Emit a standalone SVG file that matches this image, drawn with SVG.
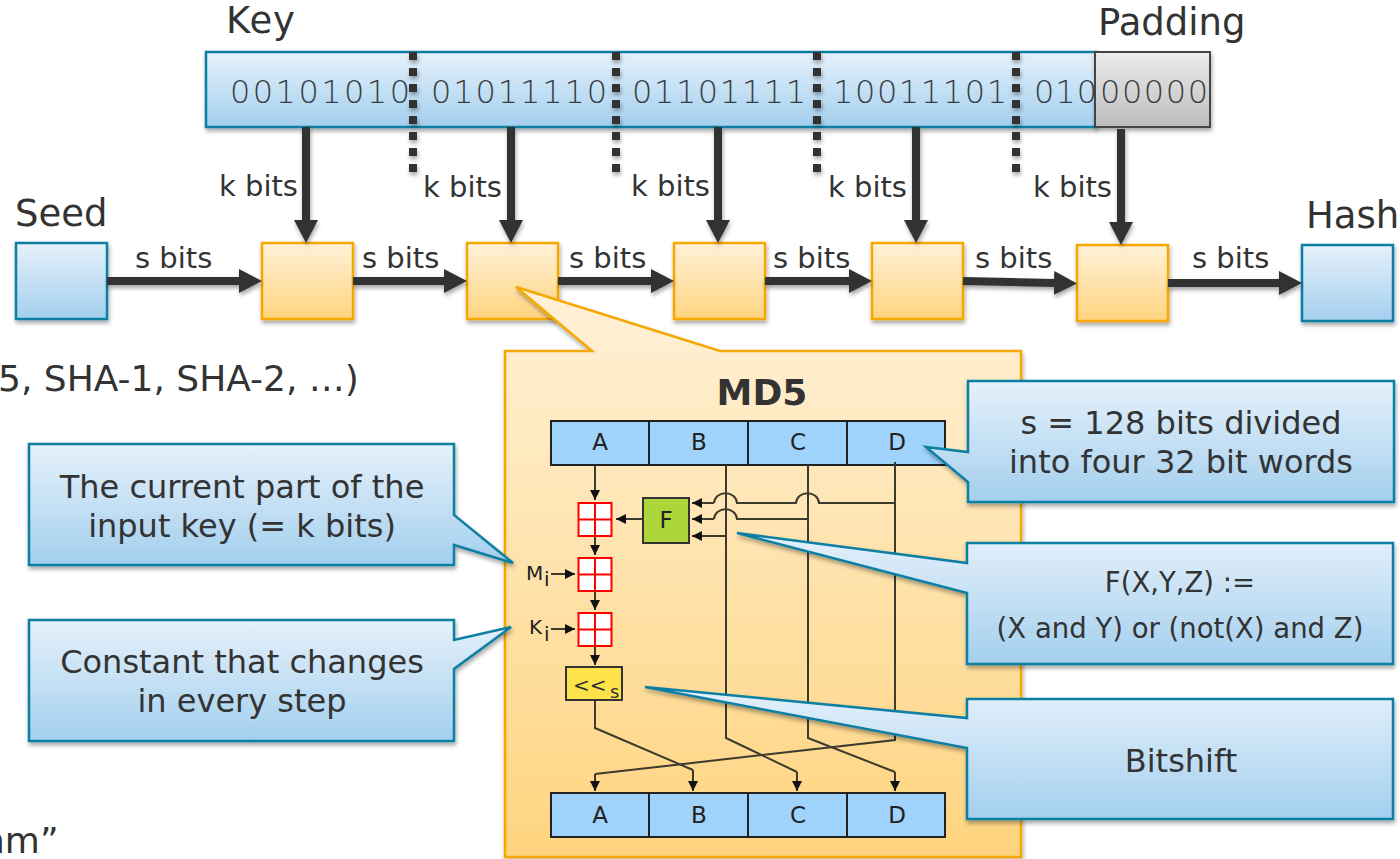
<svg xmlns="http://www.w3.org/2000/svg" width="1400" height="859" viewBox="0 0 1400 859">
<defs>
<linearGradient id="blue" x1="0" y1="0" x2="0" y2="1"><stop offset="0" stop-color="#e6f1fb"/><stop offset="1" stop-color="#a3cfee"/></linearGradient>
<linearGradient id="org" x1="0" y1="0" x2="0" y2="1"><stop offset="0" stop-color="#fff1d8"/><stop offset="1" stop-color="#ffd47f"/></linearGradient>
<linearGradient id="gray" x1="0" y1="0" x2="0" y2="1"><stop offset="0" stop-color="#ececec"/><stop offset="1" stop-color="#bdbdbd"/></linearGradient>
<filter id="sh" x="-10%" y="-10%" width="120%" height="125%"><feDropShadow dx="1" dy="3" stdDeviation="2" flood-color="#000" flood-opacity="0.35"/></filter>
<marker id="big" markerUnits="userSpaceOnUse" markerWidth="24" markerHeight="24" refX="1" refY="12" orient="auto"><path d="M0 0L23 12L0 24z" fill="#333"/></marker>
<marker id="sm" markerUnits="userSpaceOnUse" markerWidth="11" markerHeight="12" refX="10" refY="5" orient="auto"><path d="M0 0L10 5L0 10z" fill="#111"/></marker>
</defs>
<style>
text{font-family:"DejaVu Sans","Verdana",sans-serif;fill:#333}
.lab{font-size:29px}
.big{font-size:36px}
.title{font-size:37px}
.bits{font-size:32px;fill:#3a3f44;font-weight:200}
.call{font-size:32px;text-anchor:middle}
.small{font-size:27.5px;text-anchor:middle}
.cell{font-size:23px;text-anchor:middle;fill:#222}
.sub{font-size:20px;fill:#222}
.b{fill:url(#blue);stroke:#0d7fa3;stroke-width:2.5}
.o{fill:url(#org);stroke:#f6a800;stroke-width:2.5}
.thick{fill:none;stroke:#333;stroke-width:8;marker-end:url(#big)}
.thin{fill:none;stroke:#3d3a2e;stroke-width:2}
.ar{fill:none;stroke:#3d3a2e;stroke-width:2;marker-end:url(#sm)}
.dot{stroke:#333;stroke-width:8;stroke-dasharray:8 8;fill:none}
.reg{fill:#9fd3fb;stroke:#222;stroke-width:2}
.rs{fill:#fff;stroke:#f00;stroke-width:2}
</style>
<g id="key"><rect class="b" x="206" y="52" width="890" height="75" filter="url(#sh)"/><text class="bits" x="230" y="103" textLength="180">00101010</text><text class="bits" x="431" y="103" textLength="176">01011110</text><text class="bits" x="632" y="103" textLength="174">01101111</text><text class="bits" x="833" y="103" textLength="174">10011101</text><text class="bits" x="1034" y="103" textLength="63">010</text><text class="title" x="226" y="33" textLength="69">Key</text></g>
<g id="padding"><rect x="1095" y="52" width="115" height="75" fill="url(#gray)" stroke="#444" stroke-width="2" filter="url(#sh)"/><text class="bits" x="1100" y="103" textLength="108">00000</text><text class="title" x="1098" y="35">Padding</text></g>
<g id="dividers" filter="url(#sh)"><path class="dot" d="M413 52V172M616 52V172M817 52V172M1016 52V172"/></g>
<g id="seed"><rect class="b" x="16" y="243" width="91" height="76" filter="url(#sh)"/><text class="title" x="15" y="226">Seed</text></g>
<g id="hash"><rect class="b" x="1302" y="245" width="91" height="76" filter="url(#sh)"/><text class="title" x="1306" y="228">Hash</text></g>
<g id="step1"><rect class="o" x="262" y="243" width="91" height="76" filter="url(#sh)"/></g>
<g id="step2"><rect class="o" x="467" y="243" width="91" height="76" filter="url(#sh)"/></g>
<g id="step3"><rect class="o" x="674" y="243" width="91" height="76" filter="url(#sh)"/></g>
<g id="step4"><rect class="o" x="872" y="243" width="91" height="76" filter="url(#sh)"/></g>
<g id="step5"><rect class="o" x="1077" y="245" width="91" height="76" filter="url(#sh)"/></g>
<g id="connectors" filter="url(#sh)">
<path class="thick" d="M107 281H240"/><path class="thick" d="M353 281H445"/><path class="thick" d="M558 281H652"/><path class="thick" d="M765 281H850"/><path class="thick" d="M963 281L1055 283"/><path class="thick" d="M1168 283H1280"/>
<path class="thick" d="M306 127V221"/><path class="thick" d="M511 127V221"/><path class="thick" d="M718 127V221"/><path class="thick" d="M916 127V221"/><path class="thick" d="M1121 129V223"/>
</g>
<g id="labels"><text class="lab" x="219" y="196">k bits</text><text class="lab" x="423" y="197">k bits</text><text class="lab" x="631" y="196">k bits</text><text class="lab" x="828" y="197">k bits</text><text class="lab" x="1033" y="197">k bits</text>
<text class="lab" x="135" y="268">s bits</text><text class="lab" x="362" y="268">s bits</text><text class="lab" x="569" y="268">s bits</text><text class="lab" x="773" y="268">s bits</text><text class="lab" x="975" y="268">s bits</text><text class="lab" x="1192" y="268">s bits</text>
<text class="big" x="-2" y="391">5, SHA-1, SHA-2, …)</text><text class="big" x="-18" y="853">hm”</text></g>
<g id="md5"><path class="o" d="M505 351H592L516 287L720 351H1021V857H505z" filter="url(#sh)"/>
<text x="762" y="405" font-size="36" font-weight="bold" text-anchor="middle">MD5</text>
<g id="inner">
<rect class="reg" x="551" y="421" width="98" height="44"/><rect class="reg" x="649" y="421" width="99" height="44"/><rect class="reg" x="748" y="421" width="99" height="44"/><rect class="reg" x="847" y="421" width="98" height="44"/>
<text class="cell" x="600" y="450">A</text><text class="cell" x="699" y="450">B</text><text class="cell" x="798" y="450">C</text><text class="cell" x="897" y="450">D</text>
<rect class="reg" x="551" y="793" width="98" height="44"/><rect class="reg" x="649" y="793" width="99" height="44"/><rect class="reg" x="748" y="793" width="99" height="44"/><rect class="reg" x="847" y="793" width="98" height="44"/>
<text class="cell" x="600" y="823">A</text><text class="cell" x="699" y="823">B</text><text class="cell" x="798" y="823">C</text><text class="cell" x="897" y="823">D</text>
<path class="ar" d="M595 465V500"/><path class="ar" d="M595 536V555"/><path class="ar" d="M595 591V610"/><path class="ar" d="M595 646V665"/>
<path class="ar" d="M643 519H616"/><path class="ar" d="M551 574H575"/><path class="ar" d="M551 629H575"/>
<path class="ar" d="M725 536H692"/><path class="ar" d="M714 519H692"/><path class="ar" d="M714 503H692"/>
<path class="thin" d="M714 503c1 -13 22 -13 23 0H796c1 -13 22 -13 23 0H895"/><path class="thin" d="M714 519c1 -13 22 -13 23 0H808"/>
<path class="thin" d="M726 465V738L797 772"/><path class="ar" d="M797 772V791"/>
<path class="thin" d="M808 465V738L895 772"/><path class="ar" d="M895 772V791"/>
<path class="thin" d="M895 462V740L595 774"/><path class="ar" d="M595 774V791"/>
<path class="thin" d="M595 700V728L693 770"/><path class="ar" d="M693 770V791"/>
<rect x="643" y="498" width="46" height="45" fill="#acd63a" stroke="#333" stroke-width="2"/><text class="cell" x="666" y="528">F</text>
<g><rect class="rs" x="578.5" y="503" width="33" height="33"/><path d="M595 503V536M579 519.500H611" stroke="#f00" stroke-width="2"/></g>
<g><rect class="rs" x="578.5" y="558" width="33" height="33"/><path d="M595 558V591M579 574.500H611" stroke="#f00" stroke-width="2"/></g>
<g><rect class="rs" x="578.5" y="613" width="33" height="33"/><path d="M595 613V646M579 629.500H611" stroke="#f00" stroke-width="2"/></g>
<text class="sub" x="526" y="580">M</text><text class="sub" x="544" y="586">i</text>
<text class="sub" x="529" y="634">K</text><text class="sub" x="544" y="641">i</text>
<rect x="566" y="667" width="56" height="33" fill="#fde24a" stroke="#333" stroke-width="2"/><text x="573" y="692" font-size="20" fill="#222">&lt;&lt;</text><text x="610" y="698" font-size="18" fill="#222">s</text>
</g></g>
<g id="call-s"><path class="b" d="M968 381H1394V502H968V482L926 447L968 452z" filter="url(#sh)"/><text class="call" x="1181" y="434">s = 128 bits divided</text><text class="call" x="1181" y="473">into four 32 bit words</text></g>
<g id="call-f"><path class="b" d="M967 543H1393V664H967V593L737 533L967 563z" filter="url(#sh)"/><text class="small" x="1180" y="592">F(X,Y,Z) :=</text><text class="small" x="1180" y="638">(X and Y) or (not(X) and Z)</text></g>
<g id="call-shift"><path class="b" d="M967 699H1393V819H967V748L645 687L967 718z" filter="url(#sh)"/><text class="call" x="1181" y="772">Bitshift</text></g>
<g id="call-key"><path class="b" d="M29 444H454V515L513 563L454 545V565H29z" filter="url(#sh)"/><text class="call" x="242" y="498">The current part of the</text><text class="call" x="242" y="537">input key (= k bits)</text></g>
<g id="call-const"><path class="b" d="M29 620H454V640L511 627L454 669V741H29z" filter="url(#sh)"/><text class="call" x="242" y="673">Constant that changes</text><text class="call" x="242" y="712">in every step</text></g>
</svg>
